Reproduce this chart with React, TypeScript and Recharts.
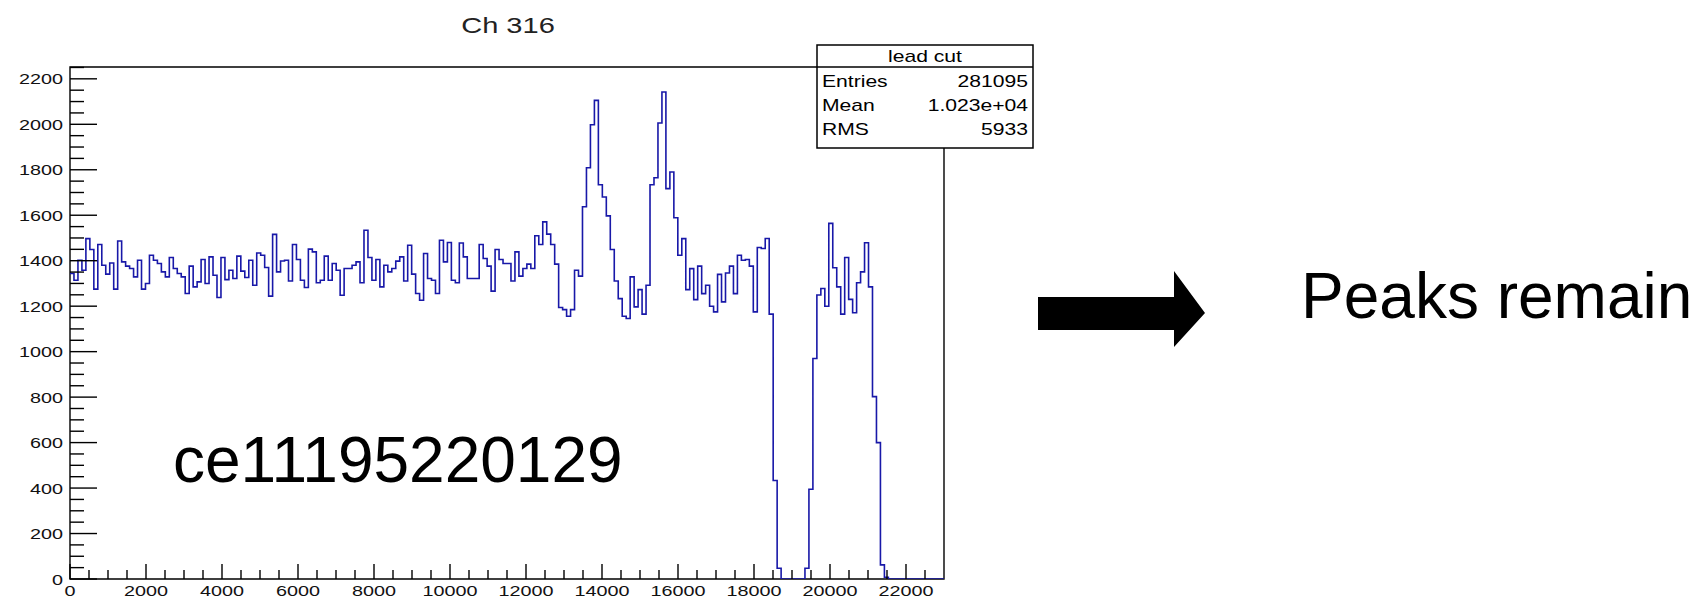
import React from 'react'
import { LineChart, Line, XAxis, YAxis, ReferenceArea } from 'recharts'

// histogram range (ROOT TH1, 220 bins)
const X_MIN = 0
const X_MAX = 23000
const Y_MAX = 2252

// bin contents, left to right
const counts = [
  1344, 1314, 1402, 1358, 1497, 1449, 1275, 1471, 1380, 1341,
  1390, 1275, 1487, 1395, 1376, 1366, 1329, 1402, 1275, 1300,
  1424, 1402, 1388, 1351, 1329, 1414, 1366, 1344, 1329, 1256,
  1376, 1285, 1307, 1405, 1300, 1417, 1336, 1238, 1414, 1317,
  1358, 1322, 1420, 1354, 1326, 1402, 1292, 1434, 1424, 1370,
  1244, 1516, 1351, 1399, 1402, 1311, 1471, 1405, 1314, 1282,
  1451, 1439, 1303, 1314, 1420, 1314, 1388, 1358, 1248, 1366,
  1366, 1380, 1395, 1303, 1534, 1414, 1314, 1405, 1285, 1380,
  1351, 1366, 1398, 1417, 1311, 1468, 1341, 1256, 1226, 1432,
  1322, 1314, 1256, 1490, 1395, 1480, 1314, 1303, 1478, 1417,
  1322, 1322, 1322, 1471, 1410, 1376, 1266, 1449, 1405, 1388,
  1388, 1311, 1439, 1332, 1366, 1385, 1366, 1510, 1471, 1571,
  1517, 1471, 1385, 1194, 1185, 1156, 1185, 1358, 1332, 1637,
  1809, 1998, 2105, 1734, 1680, 1597, 1449, 1311, 1233, 1156,
  1146, 1329, 1197, 1273, 1165, 1292, 1734, 1765, 2006, 2142,
  1717, 1790, 1589, 1424, 1497, 1273, 1365, 1229, 1376, 1255,
  1292, 1200, 1175, 1340, 1219, 1346, 1376, 1255, 1424, 1402,
  1405, 1376, 1175, 1458, 1454, 1498, 1165, 433, 47, 0,
  0, 0, 0, 0, 0, 47, 395, 970, 1249, 1278,
  1200, 1564, 1369, 1285, 1165, 1414, 1230, 1171, 1303, 1351,
  1479, 1285, 802, 600, 62, 8, 0, 0, 0, 0,
  0, 0, 0, 0, 0, 0, 0, 0, 0, 0,
]

const yMajor = [0, 200, 400, 600, 800, 1000, 1200, 1400, 1600, 1800, 2000, 2200]
const xMajor = [0, 2000, 4000, 6000, 8000, 10000, 12000, 14000, 16000, 18000, 20000, 22000]

const statsTitle = 'lead cut'
const statsNames = ['Entries', 'Mean', 'RMS']
const statsValues = ['281095', '1.023e+04', '5933']

const FONT = 'Liberation Sans, Arial, Helvetica, sans-serif'
const LINE_BLUE = '#1818a8'
// ROOT text in this canvas is horizontally stretched
const STRETCH = 1.32

const binWidth = (X_MAX - X_MIN) / counts.length
const histData = [
  ...counts.map((c, i) => ({ x: X_MIN + i * binWidth, count: c })),
  { x: X_MAX, count: counts[counts.length - 1] },
]

// minor ticks every 50 on y, every 500 on x
const yTicks = Array.from({ length: Math.floor(Y_MAX / 50) + 1 }, (_, i) => i * 50)
const xTicks = Array.from({ length: X_MAX / 500 }, (_, i) => i * 500)

// ticks point into the frame, ROOT style
const YTick = (props: any) => {
  const { x, y, payload } = props
  const major = yMajor.includes(payload.value)
  return (
    <g>
      <line x1={x} x2={x + (major ? 27 : 14)} y1={y} y2={y} stroke="#000" strokeWidth={1.4} />
      {major && (
        <text
          transform={`translate(${x - 7},${y + 5.5}) scale(${STRETCH},1)`}
          textAnchor="end"
          fontSize={15}
          fontFamily={FONT}
          fill="#111"
        >
          {payload.value}
        </text>
      )}
    </g>
  )
}

const XTick = (props: any) => {
  const { x, y, payload } = props
  const major = xMajor.includes(payload.value)
  return (
    <g>
      <line x1={x} x2={x} y1={y} y2={y - (major ? 15 : 9)} stroke="#000" strokeWidth={1.4} />
      {major && (
        <text
          transform={`translate(${x},${y + 17}) scale(${STRETCH},1)`}
          textAnchor="middle"
          fontSize={15}
          fontFamily={FONT}
          fill="#111"
        >
          {payload.value}
        </text>
      )}
    </g>
  )
}

const StatsBox = () => {
  const left = 817
  const top = 45
  const w = 216
  const h = 103
  const rows = [87, 111, 135]
  return (
    <g fontFamily={FONT} fontSize={16} fill="#000">
      <rect x={left} y={top} width={w} height={h} fill="#fff" stroke="#000" strokeWidth={1.5} />
      <line x1={left} x2={left + w} y1={67} y2={67} stroke="#000" strokeWidth={1.5} />
      <text transform={`translate(${left + w / 2},62) scale(${STRETCH},1)`} textAnchor="middle">
        {statsTitle}
      </text>
      {statsNames.map((name, i) => (
        <g key={name}>
          <text transform={`translate(${left + 5},${rows[i]}) scale(${STRETCH},1)`}>{name}</text>
          <text transform={`translate(${left + w - 5},${rows[i]}) scale(${STRETCH},1)`} textAnchor="end">
            {statsValues[i]}
          </text>
        </g>
      ))}
    </g>
  )
}

export default function App() {
  return (
    <div style={{ position: 'absolute', left: 0, top: 0, width: 1696, height: 601, background: '#fff' }}>
      <LineChart
        width={1696}
        height={601}
        data={histData}
        margin={{ top: 67, right: 752, bottom: 0, left: 0 }}
      >
        <XAxis
          type="number"
          dataKey="x"
          domain={[X_MIN, X_MAX]}
          ticks={xTicks}
          interval={0}
          height={22}
          tickSize={0}
          tickMargin={0}
          axisLine={false}
          tickLine={false}
          tick={<XTick />}
          allowDataOverflow
        />
        <YAxis
          type="number"
          domain={[0, Y_MAX]}
          ticks={yTicks}
          interval={0}
          width={70}
          tickSize={0}
          tickMargin={0}
          axisLine={false}
          tickLine={false}
          tick={<YTick />}
          allowDataOverflow
        />
        <Line
          type="stepAfter"
          dataKey="count"
          stroke={LINE_BLUE}
          strokeWidth={1.6}
          dot={false}
          activeDot={false}
          isAnimationActive={false}
        />
        <ReferenceArea
          x1={X_MIN}
          x2={X_MAX}
          y1={0}
          y2={Y_MAX}
          fill="none"
          fillOpacity={0}
          stroke="#000"
          strokeWidth={1.4}
          ifOverflow="visible"
        />
      </LineChart>

      <svg
        width={1696}
        height={601}
        style={{ position: 'absolute', left: 0, top: 0, pointerEvents: 'none' }}
      >
        <text
          transform={`translate(508,33) scale(${STRETCH},1)`}
          textAnchor="middle"
          fontSize={22}
          fontFamily={FONT}
          fill="#222"
        >
          Ch 316
        </text>
        <StatsBox />
        <text x={173} y={482} fontSize={64} fontFamily={FONT} fill="#000">
          ce11195220129
        </text>
        <polygon points="1038,297 1174,297 1174,271 1205,313 1174,347 1174,330 1038,330" fill="#000" />
        <text x={1301} y={318} fontSize={64} fontFamily={FONT} fill="#000">
          Peaks remain
        </text>
      </svg>
    </div>
  )
}
